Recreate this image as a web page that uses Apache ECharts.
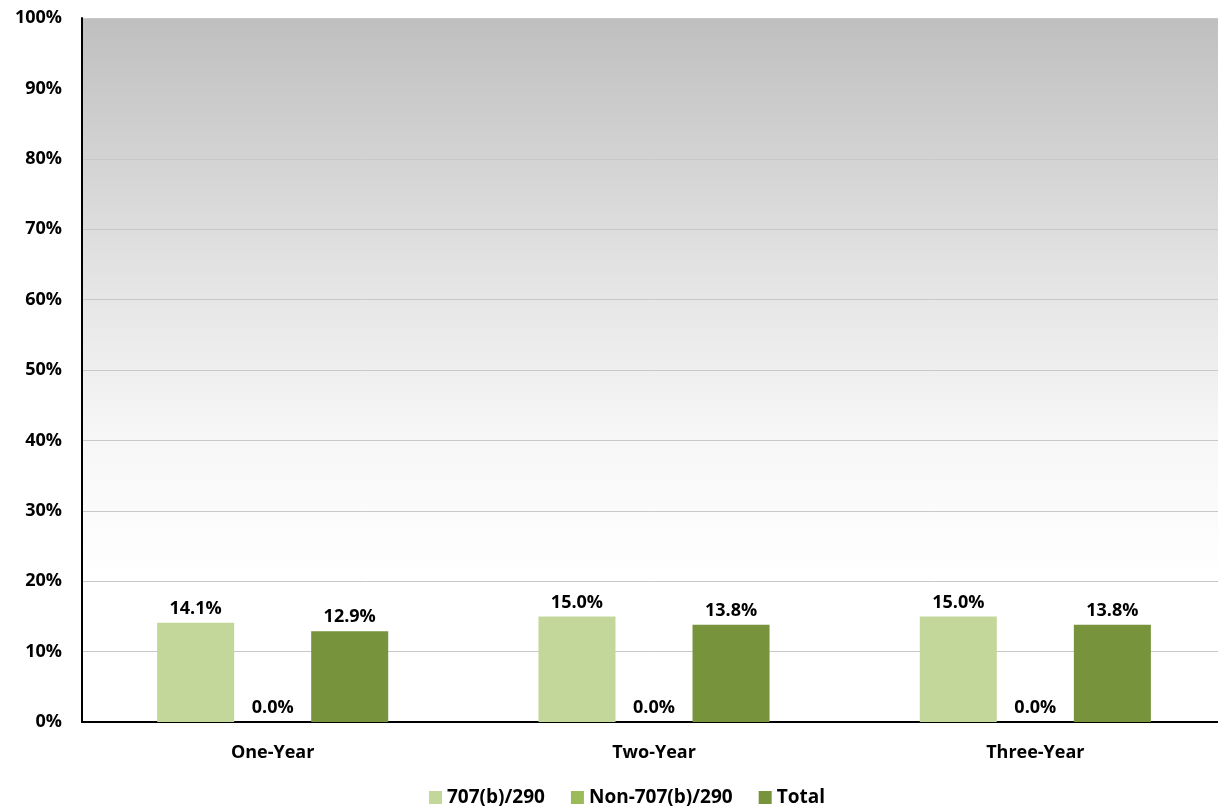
<!DOCTYPE html>
<html><head><meta charset="utf-8">
<script src="https://cdn.jsdelivr.net/npm/echarts@6/dist/echarts.min.js"></script>
<style>html,body{margin:0;padding:0;background:#fff}#c{width:1218px;height:806px}</style>
</head><body><div id="c"></div>
<script>
const categories = ['One-Year', 'Two-Year', 'Three-Year'];
const seriesNames = ['707(b)/290', 'Non-707(b)/290', 'Total'];
const v707 = [14.1, 15.0, 15.0];
const vNon707 = [0.0, 0.0, 0.0];
const vTotal = [12.9, 13.8, 13.8];
const yTicks = [0, 10, 20, 30, 40, 50, 60, 70, 80, 90, 100];

const colors = ['#c4d79b', '#9bbb59', '#77933c'];
const font = '"Open Sans", sans-serif';
const chart = echarts.init(document.getElementById('c'));
const mk = (name, data, i) => ({
  name, type: 'bar', data, barGap: '0%', barCategoryGap: '39.4%',
  itemStyle: { color: colors[i] },
  label: { show: true, position: 'top', distance: 5, formatter: p => p.value.toFixed(1) + '%',
    fontFamily: font, fontWeight: 'bold', fontSize: 18, color: '#000' }
});
chart.setOption({
  animation: false,
  grid: { left: 82, right: -8, top: 18, bottom: 84, show: true, borderWidth: 0,
    outerBoundsMode: 'none', containLabel: false,
    backgroundColor: { type: 'linear', x: 0, y: 0, x2: 0, y2: 1,
      colorStops: [{ offset: 0, color: '#bfbfbf' }, { offset: 0.35, color: '#e2e2e2' },
        { offset: 0.6, color: '#f7f7f7' }, { offset: 0.8, color: '#ffffff' }, { offset: 1, color: '#ffffff' }] } },
  legend: { left: 424, bottom: -6, itemWidth: 13, itemHeight: 13, itemGap: 26, icon: 'rect',
    textStyle: { fontFamily: font, fontWeight: 'bold', fontSize: 19, color: '#000' },
    data: seriesNames },
  xAxis: { type: 'category', data: categories,
    axisLine: { lineStyle: { color: '#000', width: 2 } }, axisTick: { show: false },
    axisLabel: { fontFamily: font, fontWeight: 'bold', fontSize: 18, color: '#000', margin: 22 } },
  yAxis: { type: 'value', min: 0, max: 100, interval: 10,
    axisLine: { show: true, lineStyle: { color: '#000', width: 2 } }, axisTick: { show: false },
    splitLine: { lineStyle: { color: '#c8c8c8', width: 1 } },
    axisLabel: { fontFamily: font, fontWeight: 'bold', fontSize: 18, color: '#000', margin: 20,
      formatter: v => yTicks.includes(v) ? v + '%' : '' } },
  series: [mk(seriesNames[0], v707, 0), mk(seriesNames[1], vNon707, 1), mk(seriesNames[2], vTotal, 2)]
});
</script></body></html>
